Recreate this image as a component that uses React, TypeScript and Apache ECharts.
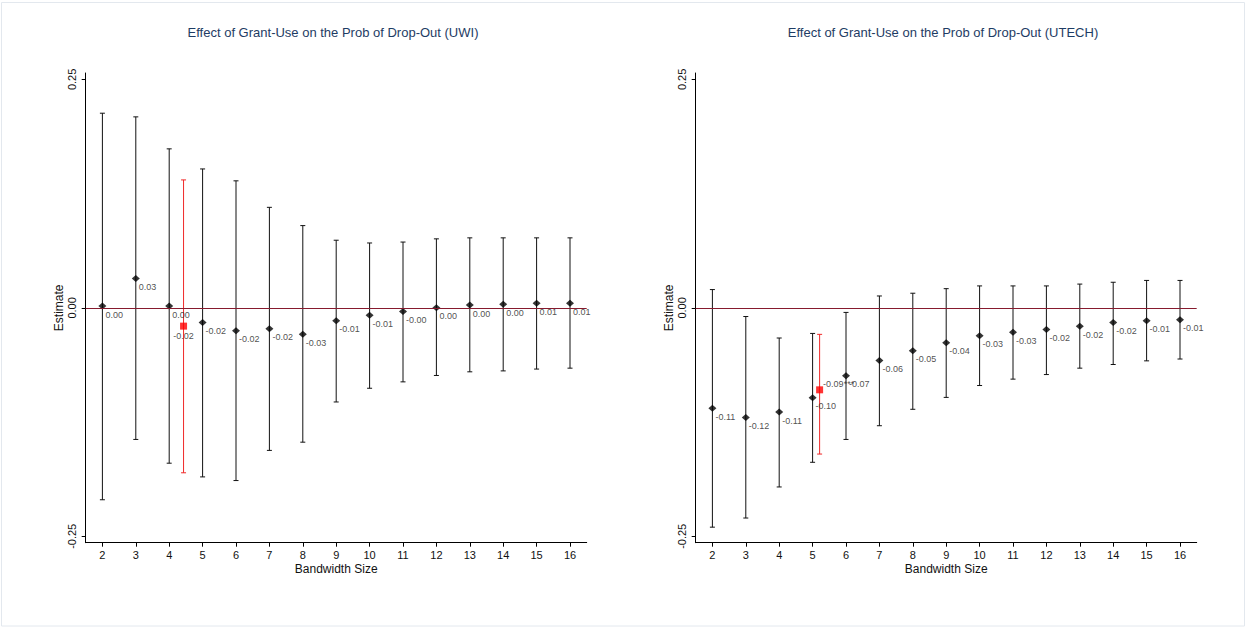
import React, { useEffect, useRef } from "react";
import * as echarts from "echarts";

const bandwidths = [2, 3, 4, 5, 6, 7, 8, 9, 10, 11, 12, 13, 14, 15, 16];

const uwiEst = [0.002, 0.032, 0.002, -0.016, -0.025, -0.023, -0.029, -0.014, -0.008, -0.004, 0.0, 0.003, 0.004, 0.005, 0.005];
const uwiLow = [-0.21, -0.144, -0.17, -0.185, -0.189, -0.156, -0.147, -0.103, -0.088, -0.081, -0.074, -0.07, -0.069, -0.067, -0.066];
const uwiHigh = [0.213, 0.209, 0.174, 0.152, 0.139, 0.11, 0.09, 0.074, 0.071, 0.072, 0.0755, 0.0766, 0.0766, 0.0766, 0.0766];
const uwiLabels = ["0.00", "0.03", "0.00", "-0.02", "-0.02", "-0.02", "-0.03", "-0.01", "-0.01", "-0.00", "0.00", "0.00", "0.00", "0.01", "0.01"];
const uwiOptimal = { x: 4.43, est: -0.02, low: -0.1805, high: 0.14, label: "-0.02" };

const utechEst = [-0.11, -0.12, -0.114, -0.0985, -0.0744, -0.0577, -0.047, -0.0383, -0.0306, -0.0267, -0.0237, -0.0201, -0.0161, -0.0142, -0.0131];
const utechLow = [-0.24, -0.23, -0.196, -0.169, -0.144, -0.129, -0.111, -0.098, -0.085, -0.078, -0.073, -0.066, -0.062, -0.058, -0.056];
const utechHigh = [0.02, -0.0095, -0.033, -0.028, -0.005, 0.013, 0.016, 0.021, 0.024, 0.024, 0.024, 0.026, 0.028, 0.03, 0.03];
const utechLabels = ["-0.11", "-0.12", "-0.11", "-0.10", "-0.07", "-0.06", "-0.05", "-0.04", "-0.03", "-0.03", "-0.02", "-0.02", "-0.02", "-0.01", "-0.01"];
const utechOptimal = { x: 5.21, est: -0.0897, low: -0.16, high: -0.029, label: "-0.09***" };

const yTicks = [-0.25, 0, 0.25];
const titles = [
  "Effect of Grant-Use on the Prob of Drop-Out (UWI)",
  "Effect of Grant-Use on the Prob of Drop-Out (UTECH)",
];

const FONT = "Liberation Sans, Arial, sans-serif";

function errorBarRender(color: string) {
  return (params: any, api: any) => {
    const x = api.value(0);
    const lo = api.coord([x, api.value(1)]);
    const hi = api.coord([x, api.value(2)]);
    const cap = 2.5;
    const style = { stroke: color, lineWidth: 1 };
    return {
      type: "group",
      children: [
        { type: "line", shape: { x1: lo[0], y1: lo[1], x2: hi[0], y2: hi[1] }, style },
        { type: "line", shape: { x1: hi[0] - cap, y1: hi[1], x2: hi[0] + cap, y2: hi[1] }, style },
        { type: "line", shape: { x1: lo[0] - cap, y1: lo[1], x2: lo[0] + cap, y2: lo[1] }, style },
      ],
    };
  };
}

export default function App() {
  const ref = useRef<HTMLDivElement>(null);
  useEffect(() => {
    if (!ref.current) return;
    const chart = echarts.init(ref.current, null, { renderer: "svg" });
    const grids = [
      { left: 85.7, top: 73, width: 501, height: 469.7 },
      { left: 695.7, top: 73, width: 501, height: 469.7 },
    ];
    const xAxes = grids.map((_, i) => ({
      type: "value",
      gridIndex: i,
      min: 1.5,
      max: 16.5,
      name: "Bandwidth Size",
      nameLocation: "middle",
      nameGap: 20,
      nameMoveOverlap: false,
      nameTextStyle: { fontFamily: FONT, fontSize: 12, color: "#111" },
      axisLine: { show: true, onZero: false, lineStyle: { color: "#000", width: 1 } },
      axisTick: { show: true, length: 4, customValues: bandwidths, lineStyle: { color: "#000" } },
      axisLabel: { show: true, customValues: bandwidths, margin: 7, fontFamily: FONT, fontSize: 11, color: "#111" },
      splitLine: { show: false },
    }));
    const yAxes = grids.map((_, i) => ({
      type: "value",
      gridIndex: i,
      min: -0.257,
      max: 0.257,
      name: "Estimate",
      nameLocation: "middle",
      nameGap: 21,
      nameMoveOverlap: false,
      nameTextStyle: { fontFamily: FONT, fontSize: 12, color: "#111" },
      axisLine: { show: true, onZero: false, lineStyle: { color: "#000", width: 1 } },
      axisTick: { show: true, length: 4, customValues: yTicks, lineStyle: { color: "#000" } },
      axisLabel: {
        show: true,
        customValues: yTicks,
        rotate: 90,
        margin: 8,
        fontFamily: FONT,
        fontSize: 11,
        color: "#111",
        formatter: (v: number) => v.toFixed(2),
      },
      splitLine: { show: false },
    }));

    const panels = [
      { est: uwiEst, low: uwiLow, high: uwiHigh, labels: uwiLabels, opt: uwiOptimal, optLabelPos: "bottom" },
      { est: utechEst, low: utechLow, high: utechHigh, labels: utechLabels, opt: utechOptimal, optLabelPos: "rightUp" },
    ];

    const series: any[] = [];
    panels.forEach((p, i) => {
      series.push({
        type: "custom",
        xAxisIndex: i,
        yAxisIndex: i,
        renderItem: errorBarRender("#111"),
        data: bandwidths.map((b, k) => [b, p.low[k], p.high[k]]),
        z: 2,
        silent: true,
        markLine: {
          silent: true,
          symbol: "none",
          label: { show: false },
          lineStyle: { color: "#861a2e", width: 1, type: "solid" },
          data: [{ yAxis: 0 }],
        },
      });
      series.push({
        type: "custom",
        xAxisIndex: i,
        yAxisIndex: i,
        renderItem: errorBarRender("#f02828"),
        data: [[p.opt.x, p.opt.low, p.opt.high]],
        z: 2,
        silent: true,
      });
      series.push({
        type: "scatter",
        xAxisIndex: i,
        yAxisIndex: i,
        symbol: "diamond",
        symbolSize: [8, 7],
        itemStyle: { color: "#000" },
        z: 3,
        data: bandwidths.map((b, k) => [b, p.est[k]]),
        label: {
          show: true,
          position: [7, 7.5],
          align: "left",
          verticalAlign: "top",
          fontFamily: FONT,
          fontSize: 9,
          color: "#222",
          formatter: (d: any) => p.labels[d.dataIndex],
        },
      });
      series.push({
        type: "scatter",
        xAxisIndex: i,
        yAxisIndex: i,
        symbol: "rect",
        symbolSize: 7,
        itemStyle: { color: "#ff0000" },
        z: 4,
        data: [[p.opt.x, p.opt.est]],
        label:
          p.optLabelPos === "bottom"
            ? {
                show: true,
                position: "bottom",
                distance: 2,
                fontFamily: FONT,
                fontSize: 9,
                color: "#222",
                formatter: () => p.opt.label,
              }
            : {
                show: true,
                position: [7, -6.6],
                align: "left",
                verticalAlign: "top",
                fontFamily: FONT,
                fontSize: 9,
                color: "#222",
                formatter: () => p.opt.label,
              },
      });
    });

    chart.setOption({
      animation: false,
      backgroundColor: "#ffffff",
      title: titles.map((t, i) => ({
        text: t,
        left: i === 0 ? 328 : 938,
        top: 21,
        textAlign: "center",
        textStyle: { fontFamily: FONT, fontSize: 13, fontWeight: "normal", color: "#1e3c64" },
      })),
      grid: grids,
      xAxis: xAxes,
      yAxis: yAxes,
      series,
      graphic: [
        {
          type: "rect",
          shape: { x: 1.5, y: 2.5, width: 1243, height: 623.5 },
          style: { fill: "none", stroke: "#e3e8ee", lineWidth: 1 },
          silent: true,
        },
      ],
    });
    return () => chart.dispose();
  }, []);
  return (
    <div
      ref={ref}
      style={{ position: "fixed", left: 0, top: 0, width: 1247, height: 627, background: "#fff" }}
    />
  );
}
